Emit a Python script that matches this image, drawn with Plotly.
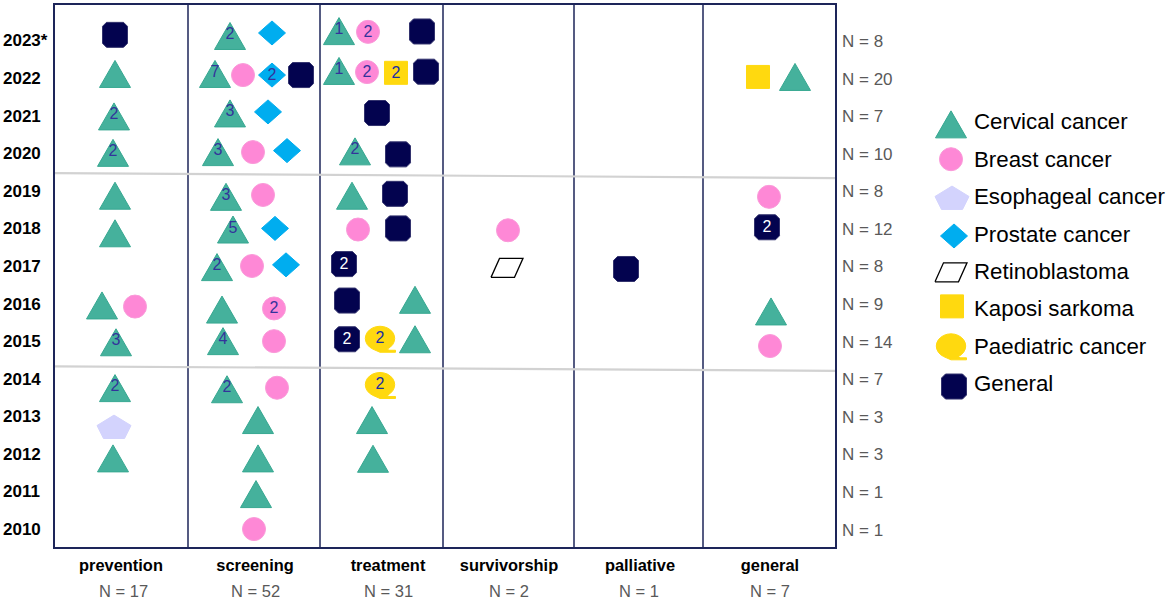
import math
import plotly.graph_objects as go

FONT = "Liberation Sans"

# ---- data: x is position along the phase axis, y is the (nudged) year row ----
phases = ["prevention", "screening", "treatment", "survivorship", "palliative", "general"]
phase_n = ["N = 17", "N = 52", "N = 31", "N = 2", "N = 1", "N = 7"]
phase_centers = [121, 255, 388, 509, 640, 770]
phase_n_centers = [123, 255, 388, 509, 639, 770]
phase_edges = [188, 320, 443, 574, 703]

years = [2023, 2022, 2021, 2020, 2019, 2018, 2017, 2016, 2015, 2014, 2013, 2012, 2011, 2010]
year_labels = ["2023*", "2022", "2021", "2020", "2019", "2018", "2017", "2016", "2015", "2014", "2013", "2012", "2011", "2010"]
year_n = ["N = 8", "N = 20", "N = 7", "N = 10", "N = 8", "N = 12", "N = 8", "N = 9", "N = 14", "N = 7", "N = 3", "N = 3", "N = 1", "N = 1"]

cervical_x = [115, 114, 113, 115, 115, 102, 116, 115, 113,
              230, 215, 230, 218, 226, 233, 217, 222, 223, 227, 258, 258, 256,
              339, 339, 355, 352, 415, 415, 372, 373, 795, 771]
cervical_y = [2022.11, 2020.98, 2020.01, 2018.87, 2017.87, 2015.95, 2014.97, 2013.75, 2011.88,
              2023.12, 2022.11, 2021.06, 2020.03, 2018.84, 2017.97, 2016.97, 2015.84, 2015.0, 2013.72, 2012.9, 2011.88, 2010.93,
              2023.25, 2022.19, 2020.05, 2018.87, 2016.1, 2015.05, 2012.9, 2011.87, 2022.03, 2015.79]
cervical_labels = ["", "2", "2", "", "", "", "3", "2", "",
                   "2", "7", "3", "3", "3", "5", "2", "", "4", "2", "", "", "",
                   "1", "1", "2", "", "", "", "", "", "", ""]

breast_x = [135, 243, 253, 263, 252, 274, 274, 277, 254, 368, 367, 358, 508, 769, 770]
breast_y = [2015.92, 2022.08, 2020.03, 2018.89, 2017.0, 2015.87, 2015.0, 2013.76, 2010.0,
            2023.23, 2022.16, 2017.97, 2017.95, 2018.84, 2014.87]
breast_labels = ["", "", "", "", "", "2", "", "", "", "2", "2", "", "", "", ""]

esophageal_x = [114]
esophageal_y = [2012.72]

prostate_x = [272, 272, 268, 287, 275, 286]
prostate_y = [2023.2, 2022.08, 2021.1, 2020.07, 2018.0, 2017.03]
prostate_labels = ["", "2", "", "", "", ""]

retinoblastoma_x = [507]
retinoblastoma_y = [2016.95]

kaposi_x = [396, 758]
kaposi_y = [2022.14, 2022.03]
kaposi_labels = ["2", ""]

paediatric_x = [380, 380]
paediatric_y = [2015.05, 2013.82]
paediatric_labels = ["2", "2"]

general_x = [115, 301, 422, 426, 377, 398, 395, 398, 344, 347, 347, 626, 767]
general_y = [2023.15, 2022.08, 2023.24, 2022.17, 2021.07, 2019.97, 2018.92, 2018.0, 2017.05, 2016.08, 2015.05, 2016.92, 2018.03]
general_labels = ["", "", "", "", "", "", "", "", "2", "", "2", "", "2"]

divider_x = [55, 835]
divider_2020_y = [2019.47, 2019.34]
divider_2015_y = [2014.33, 2014.21]

legend_names = ["Cervical cancer", "Breast cancer", "Esophageal cancer", "Prostate cancer",
                "Retinoblastoma", "Kaposi sarkoma", "Paediatric cancer", "General"]
legend_rows = [0, 1, 2, 3, 4, 5, 6, 7]
legend_symbol_x = [951, 951, 952, 954, 951, 952, 951, 954]
legend_symbol_row = [0.09, 0.02, 0.05, 0.07, 0.04, -0.05, 0.03, 0.09]

# ---- layout constants (page pixels) ----
W, H = 1169, 601
L, R, T, B = 55, 835, 5, 547
PX_PER_YEAR = 37.58
PX_PER_ROW = 37.45
Y_TOP = 2023 + 35.5 / PX_PER_YEAR
Y_BOT = 2023 - 506.5 / PX_PER_YEAR
ROW0_PX = 121

# ---- glyph outlines in page pixels relative to the centre, y up ----
TRIANGLE = [(-15.5, -13.5), (15.5, -13.5), (0, 13.5)]
DIAMOND = [(-13.5, 0), (0, 12), (13.5, 0), (0, -12)]
PENTAGON = [(0, 11.7), (17, 1.3), (10.5, -11.7), (-10.5, -11.7), (-17, 1.3)]
PARALLELOGRAM = [(-16, -9.5), (-7.5, 9.5), (16, 9.5), (7.5, -9.5)]
OCTAGON = [(-12.5, -8.5), (-12.5, 8.5), (-8.5, 12.5), (8.5, 12.5),
           (12.5, 8.5), (12.5, -8.5), (8.5, -12.5), (-8.5, -12.5)]
BUBBLE = [(14.7 * math.cos(math.radians(a)), 12.2 * math.sin(math.radians(a)) + 0.8)
          for a in range(-60, 250, 15)] + [(0, -13), (15.5, -13), (15.5, -11), (9, -11)]


def outline(xs, ys, glyph, y_per_px):
    out_x, out_y = [], []
    for cx, cy in zip(xs, ys):
        for dx, dy in glyph + glyph[:1]:
            out_x.append(cx + dx)
            out_y.append(cy + dy * y_per_px)
        out_x.append(None)
        out_y.append(None)
    return out_x, out_y


def polygons(xs, ys, glyph, fill, edge, edge_w=1, y_per_px=1 / PX_PER_YEAR, xa="x", ya="y"):
    px, py = outline(xs, ys, glyph, y_per_px)
    return go.Scatter(x=px, y=py, mode="lines", fill="toself", fillcolor=fill,
                      line=dict(color=edge, width=edge_w), hoverinfo="skip",
                      showlegend=False, xaxis=xa, yaxis=ya)


def dots(xs, ys, symbol, size, fill, edge, xa="x", ya="y"):
    return go.Scatter(x=xs, y=ys, mode="markers", hoverinfo="skip", showlegend=False,
                      marker=dict(symbol=symbol, size=size, color=fill, line=dict(color=edge, width=1)),
                      xaxis=xa, yaxis=ya)


def counts(xs, ys, labels, color, lift=-1.0):
    return go.Scatter(x=xs, y=[v + lift / PX_PER_YEAR for v in ys], text=labels, mode="text",
                      textposition="middle center", hoverinfo="skip", showlegend=False,
                      textfont=dict(family=FONT, size=16, color=color))


C_TRI, E_TRI = "#45b19c", "#37a891"
C_CIR, E_CIR = "#fe88d6", "#fa9ad9"
C_PEN = "#d3d3fd"
C_DIA = "#00adef"
C_SQ = "#ffd90f"
C_GEN, E_GEN = "#03034f", "#33336e"
NAVY = "#1d2559"
TXT_DARK = "#33339b"
TXT_BLUE = "#1a2da3"

fig = go.Figure()

# dividers between the periods
for series_y in (divider_2020_y, divider_2015_y):
    fig.add_trace(go.Scatter(x=divider_x, y=series_y, mode="lines", hoverinfo="skip", showlegend=False,
                             line=dict(color="#d2d2d2", width=2.2)))

# marks
fig.add_trace(polygons(cervical_x, cervical_y, TRIANGLE, C_TRI, E_TRI))
fig.add_trace(dots(breast_x, breast_y, "circle", 23, C_CIR, E_CIR))
fig.add_trace(polygons(esophageal_x, esophageal_y, PENTAGON, C_PEN, C_PEN))
fig.add_trace(polygons(prostate_x, prostate_y, DIAMOND, C_DIA, C_DIA))
fig.add_trace(polygons(retinoblastoma_x, retinoblastoma_y, PARALLELOGRAM, "#ffffff", "#000000", 1.3))
fig.add_trace(dots(kaposi_x, kaposi_y, "square", 23, C_SQ, C_SQ))
fig.add_trace(polygons(paediatric_x, paediatric_y, BUBBLE, C_SQ, C_SQ))
fig.add_trace(polygons(general_x, general_y, OCTAGON, C_GEN, E_GEN))

# counts inside marks
fig.add_trace(counts(cervical_x, cervical_y, cervical_labels, TXT_DARK, 1))
fig.add_trace(counts(breast_x, breast_y, breast_labels, TXT_DARK))
fig.add_trace(counts(prostate_x, prostate_y, prostate_labels, TXT_DARK))
fig.add_trace(counts(kaposi_x, kaposi_y, kaposi_labels, TXT_BLUE))
fig.add_trace(counts(paediatric_x, paediatric_y, paediatric_labels, TXT_BLUE, 0))
fig.add_trace(counts(general_x, general_y, general_labels, "#ffffff"))

# hand-built legend on its own axes
r_per_px = -1 / PX_PER_ROW
lx, lr = legend_symbol_x, legend_symbol_row
kw = dict(y_per_px=r_per_px, xa="x2", ya="y2")
fig.add_trace(polygons([lx[0]], [legend_rows[0] + lr[0]], TRIANGLE, C_TRI, E_TRI, **kw))
fig.add_trace(dots([lx[1]], [legend_rows[1] + lr[1]], "circle", 23, C_CIR, E_CIR, xa="x2", ya="y2"))
fig.add_trace(polygons([lx[2]], [legend_rows[2] + lr[2]], PENTAGON, C_PEN, C_PEN, **kw))
fig.add_trace(polygons([lx[3]], [legend_rows[3] + lr[3]], DIAMOND, C_DIA, C_DIA, **kw))
fig.add_trace(polygons([lx[4]], [legend_rows[4] + lr[4]], PARALLELOGRAM, "#ffffff", "#000000", 1.3, **kw))
fig.add_trace(dots([lx[5]], [legend_rows[5] + lr[5]], "square", 23, C_SQ, C_SQ, xa="x2", ya="y2"))
fig.add_trace(polygons([lx[6]], [legend_rows[6] + lr[6]], BUBBLE, C_SQ, C_SQ, **kw))
fig.add_trace(polygons([lx[7]], [legend_rows[7] + lr[7]], OCTAGON, C_GEN, E_GEN, **kw))
fig.add_trace(go.Scatter(x=[974] * len(legend_names), y=[r + 0.07 for r in legend_rows], text=legend_names, mode="text",
                         textposition="middle right", hoverinfo="skip", showlegend=False,
                         textfont=dict(family=FONT, size=22.3, color="#000000"),
                         xaxis="x2", yaxis="y2", cliponaxis=False))

annotations = []
for yr, lab, n in zip(years, year_labels, year_n):
    annotations.append(dict(x=1 / W, xref="paper", y=yr, yref="y", yshift=-0.5, text=f"<b>{lab}</b>", showarrow=False,
                            xanchor="left", yanchor="middle", font=dict(family=FONT, size=17, color="#000000")))
    annotations.append(dict(x=840 / W, xref="paper", y=yr, yref="y", yshift=-1, text=n, showarrow=False,
                            xanchor="left", yanchor="middle", font=dict(family=FONT, size=17, color="#595959")))
for cx, n in zip(phase_n_centers, phase_n):
    annotations.append(dict(x=cx, xref="x", y=1 - 590.5 / H, yref="paper", text=n, showarrow=False,
                            xanchor="center", yanchor="middle", font=dict(family=FONT, size=16.5, color="#595959")))

shapes = [dict(type="line", xref="x", yref="paper", x0=e, x1=e, y0=1 - B / H, y1=1 - T / H,
               line=dict(color=NAVY, width=1.5), layer="below") for e in phase_edges]

fig.update_layout(
    width=W, height=H, margin=dict(l=0, r=0, t=0, b=0), autosize=False,
    paper_bgcolor="#ffffff", plot_bgcolor="#ffffff",
    font=dict(family=FONT), showlegend=False, annotations=annotations, shapes=shapes,
    xaxis=dict(domain=[L / W, R / W], range=[L, R], showgrid=False, zeroline=False, showline=True,
               mirror=True, linecolor=NAVY, linewidth=1.5, tickmode="array", tickvals=phase_centers,
               ticktext=[f"<b>{p}</b>" for p in phases], ticks="outside", ticklen=3,
               tickcolor="rgba(0,0,0,0)", tickfont=dict(family=FONT, size=16.4, color="#000000")),
    yaxis=dict(domain=[1 - B / H, 1 - T / H], range=[Y_BOT, Y_TOP], showgrid=False, zeroline=False,
               showline=True, mirror=True, linecolor=NAVY, linewidth=1.5, tickmode="array", tickvals=years,
               showticklabels=False, ticks=""),
    xaxis2=dict(domain=[925 / W, 1], range=[925, W], visible=False, anchor="y2"),
    yaxis2=dict(domain=[0, 1], range=[(H - ROW0_PX) / PX_PER_ROW, -ROW0_PX / PX_PER_ROW], visible=False, anchor="x2"),
)

fig.write_html("out.html", config={"displayModeBar": False},
               post_script="document.body.style.margin='0';")
